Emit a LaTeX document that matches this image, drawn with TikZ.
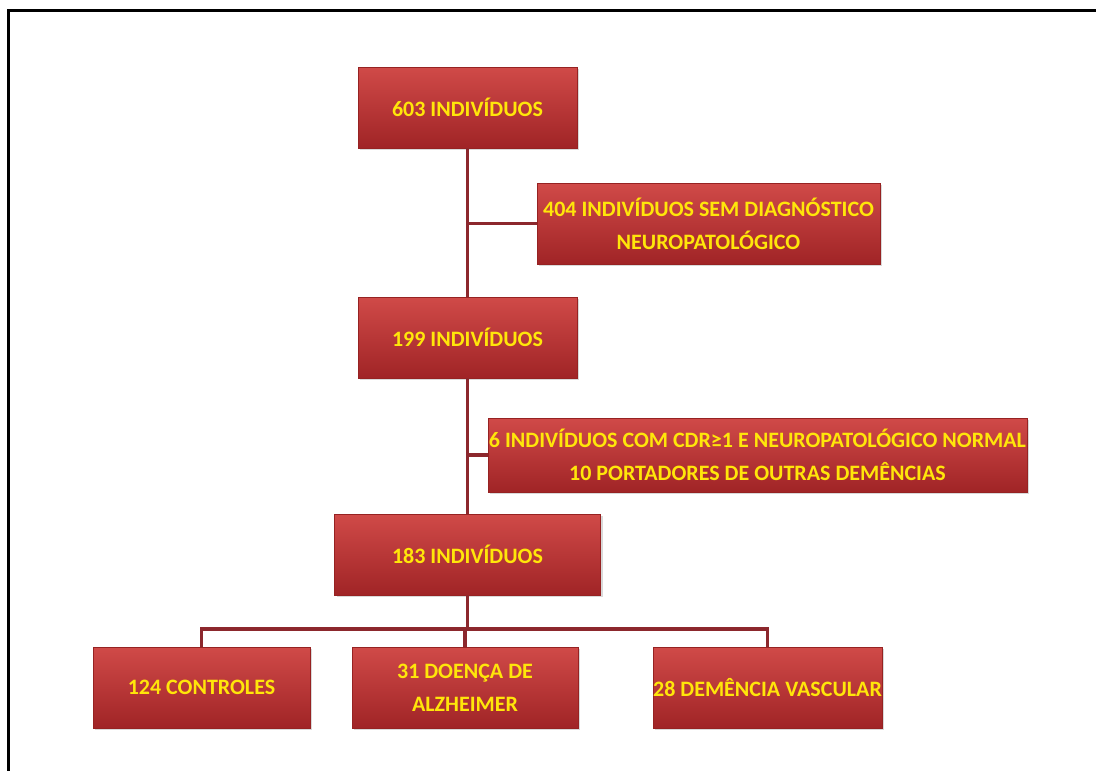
\documentclass[tikz,border=0pt]{standalone}
\usepackage{fontspec}
\setmainfont{Carlito}
\usetikzlibrary{shadows}
\definecolor{boxtop}{RGB}{208,74,72}
\definecolor{boxbot}{RGB}{160,36,38}
\definecolor{boxedge}{RGB}{150,34,34}
\definecolor{txt}{RGB}{255,230,10}
\definecolor{linec}{RGB}{140,40,45}
\begin{document}
\begin{tikzpicture}[x=1pt,y=-1pt,
  box/.style={rectangle, top color=boxtop, bottom color=boxbot, draw=boxedge, line width=0.8pt,
    text=txt, font=\bfseries\fontsize{22}{33}\selectfont, align=center, inner sep=0pt,
    minimum height=81pt,
    drop shadow={shadow xshift=2pt, shadow yshift=-2pt, opacity=0.3}},
  conn/.style={draw=linec, line width=3.2pt}]
\useasboundingbox (0,0) rectangle (1096,771);
\draw[line width=3pt] (8,771) -- (8,10) -- (1096,10);

\node[box, minimum width=219pt] (n603) at (467.5,107.5) {603 INDIVÍDUOS};
\node[box, minimum width=343pt] (n404) at (708.5,223.5) {404 INDIVÍDUOS SEM DIAGNÓSTICO\\NEUROPATOLÓGICO};
\node[box, minimum width=219pt] (n199) at (467.5,337.5) {199 INDIVÍDUOS};
\node[box, minimum width=539pt, minimum height=74pt] (nexc) at (757.5,455) {6 INDIVÍDUOS COM CDR≥1 E NEUROPATOLÓGICO NORMAL\\10 PORTADORES DE OUTRAS DEMÊNCIAS};
\node[box, minimum width=266pt] (n183) at (467.5,554.5) {183 INDIVÍDUOS};
\node[box, minimum width=217pt] (n124) at (201.5,687.5) {124 CONTROLES};
\node[box, minimum width=226pt] (n31) at (465,687.5) {31 DOENÇA DE\\ALZHEIMER};
\node[box, minimum width=229pt] (n28) at (767.5,687.5) {28 DEMÊNCIA VASCULAR};

\draw[conn] (n603.south) -- (n199.north);
\draw[conn] (n603.south |- n404.west) -- (n404.west);
\draw[conn] (n199.south) -- (n183.north);
\draw[conn] (n199.south |- nexc.west) -- (nexc.west);
\coordinate (bus) at (467.5,629);
\draw[conn] (n183.south) -- (bus);
\draw[conn] (n124.north) |- (bus) -| (n28.north);
\draw[conn] (n31.north) -- (n31.north |- bus);
\end{tikzpicture}
\end{document}
